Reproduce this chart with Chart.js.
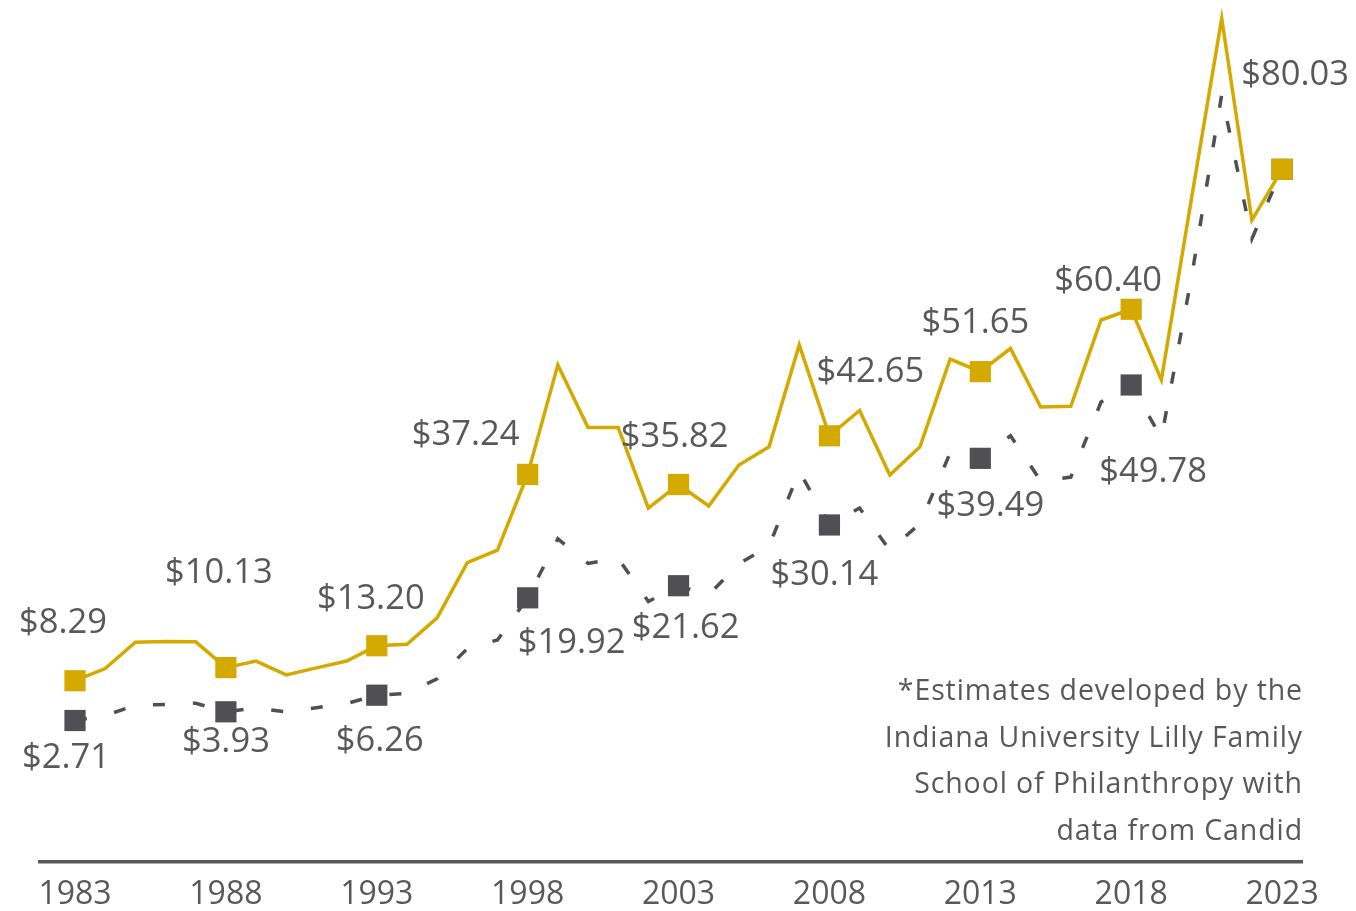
<!DOCTYPE html>
<html>
<head>
<meta charset="utf-8">
<script src="https://cdn.jsdelivr.net/npm/chart.js@4.4.1/dist/chart.umd.min.js"></script>
<style>
  html, body { margin: 0; padding: 0; background: #fff; }
  #wrap { width: 1356px; height: 911px; position: relative; }
</style>
</head>
<body>
<div id="wrap"><canvas id="givingChart"></canvas></div>
<script>
// values in billions of dollars
const years = [1983, 1984, 1985, 1986, 1987, 1988, 1989, 1990, 1991, 1992,
               1993, 1994, 1995, 1996, 1997, 1998, 1999, 2000, 2001, 2002,
               2003, 2004, 2005, 2006, 2007, 2008, 2009, 2010, 2011, 2012,
               2013, 2014, 2015, 2016, 2017, 2018, 2019, 2020, 2021, 2022, 2023];

// inflation-adjusted (gold, solid)
const adjusted = [8.29, 10.0, 13.7, 13.8, 13.75, 10.13, 11.05, 9.1, 10.1, 11.05,
                  13.20, 13.4, 17.1, 24.85, 26.6, 37.24, 52.6, 43.8, 43.8, 32.5,
                  35.82, 32.8, 38.55, 41.1, 55.4, 42.65, 46.2, 37.15, 41.1, 53.4,
                  51.65, 54.9, 46.7, 46.8, 58.9, 60.40, 50.5, 76.0, 101.2, 72.9, 80.03];

// current dollars (gray, dashed)
const current = [2.71, 3.41, 4.84, 4.96, 5.13, 3.93, 4.50, 3.90, 4.51, 5.09,
                 6.26, 6.52, 8.55, 12.80, 14.01, 19.92, 28.2, 24.75, 25.46, 19.4,
                 21.62, 20.33, 24.71, 27.19, 37.69, 30.14, 32.52, 26.59, 30.34, 40.24,
                 39.49, 42.65, 36.32, 36.86, 47.38, 49.78, 42.38, 64.9, 90.5, 70.3, 80.03];

const markerYears = [1983, 1988, 1993, 1998, 2003, 2008, 2013, 2018, 2023];
const tickYears = [1983, 1988, 1993, 1998, 2003, 2008, 2013, 2018, 2023];

const footnote = ["*Estimates developed by the",
                  "Indiana University Lilly Family",
                  "School of Philanthropy with",
                  "data from Candid"];

// where each value label sits relative to its marker (px)
const adjustedLabelOffsets = {
  1983: [-12, -60], 1988: [-7, -97], 1993: [-6, -49], 1998: [-62, -42],
  2003: [-4, -50], 2008: [41, -66], 2013: [-5, -51], 2018: [-23, -31], 2023: [13, -97]
};
const currentLabelOffsets = {
  1983: [-9, 35], 1988: [0, 28], 1993: [3, 43], 1998: [44, 43],
  2003: [7, 40], 2008: [-5, 48], 2013: [10, 45], 2018: [22, 85]
};

const GOLD = "#d4aa00";
const DARK = "#505054";
const TEXT = "#58595b";
const FONT = "'Open Sans', 'DejaVu Sans', sans-serif";

const toPoints = (vals) => years.map((y, i) => ({ x: y, y: vals[i] }));
const markerRadius = (ctx) => markerYears.includes(years[ctx.dataIndex]) ? 15 : 0;

const valueLabels = {
  id: "valueLabels",
  afterDatasetsDraw(chart) {
    const { ctx, scales: { x, y } } = chart;
    ctx.save();
    ctx.fillStyle = TEXT;
    ctx.font = "400 34.5px " + FONT;
    ctx.textAlign = "center";
    ctx.textBaseline = "alphabetic";
    const put = (vals, offsets) => {
      Object.keys(offsets).forEach((yr) => {
        const i = years.indexOf(Number(yr));
        const [dx, dy] = offsets[yr];
        const px = x.getPixelForValue(years[i]) + dx;
        const py = y.getPixelForValue(vals[i]) + dy + 12.5;
        ctx.fillText("$" + vals[i].toFixed(2), px, py);
      });
    };
    put(adjusted, adjustedLabelOffsets);
    put(current, currentLabelOffsets);

    ctx.font = "400 28.5px " + FONT;
    ctx.letterSpacing = "0.9px";
    ctx.textAlign = "right";
    footnote.forEach((line, k) => {
      ctx.fillText(line, chart.chartArea.right + 1, 700 + k * 46.7);
    });
    ctx.restore();
  }
};

new Chart(document.getElementById("givingChart").getContext("2d"), {
  type: "line",
  data: {
    datasets: [
      {
        label: "Inflation-adjusted",
        data: toPoints(adjusted),
        borderColor: GOLD,
        backgroundColor: GOLD,
        borderWidth: 3.5,
        pointStyle: "rect",
        pointRadius: markerRadius,
        pointBorderWidth: 0,
        pointBackgroundColor: GOLD,
        tension: 0,
        order: 0
      },
      {
        label: "Current dollars",
        data: toPoints(current),
        borderColor: DARK,
        backgroundColor: DARK,
        borderWidth: 3.5,
        borderDash: [12, 28],
        pointStyle: "rect",
        pointRadius: markerRadius,
        pointBorderWidth: 0,
        pointBackgroundColor: DARK,
        tension: 0,
        order: 1
      }
    ]
  },
  options: {
    responsive: true,
    maintainAspectRatio: false,
    animation: false,
    layout: { autoPadding: false, padding: { left: 40, right: 54, top: 0, bottom: 0 } },
    plugins: {
      legend: { display: false },
      tooltip: { enabled: false }
    },
    scales: {
      x: {
        type: "linear",
        min: 1981.84,
        max: 2023.66,
        afterBuildTicks: (axis) => { axis.ticks = tickYears.map((v) => ({ value: v })); },
        afterFit: (axis) => { axis.height = 49; },
        grid: { display: false, drawTicks: false },
        border: { display: true, color: TEXT, width: 3.5 },
        ticks: {
          color: TEXT,
          font: { family: FONT, size: 32, weight: "400" },
          padding: 14,
          maxRotation: 0,
          autoSkip: false,
          callback: (v) => String(v)
        }
      },
      y: {
        display: false,
        min: -17.14,
        max: 103.79
      }
    }
  },
  plugins: [valueLabels]
});
</script>
</body>
</html>
